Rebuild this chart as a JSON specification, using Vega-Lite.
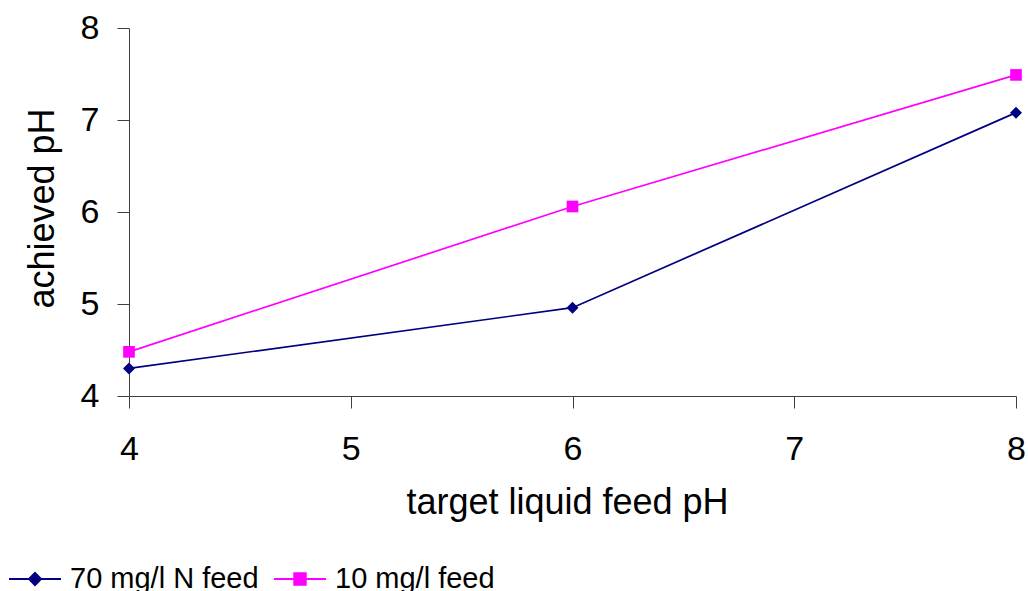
{
  "$schema": "https://vega.github.io/schema/vega-lite/v6.json",
  "width": 887,
  "height": 368,
  "autosize": "none",
  "padding": {"left": 129, "top": 28, "right": 12, "bottom": 195},
  "background": "white",
  "config": {
    "font": "Liberation Sans",
    "view": {"stroke": null},
    "axis": {
      "domainColor": "#404040",
      "tickColor": "#404040",
      "tickSize": 12,
      "grid": false,
      "labelFontSize": 34,
      "labelColor": "black",
      "titleFontSize": 36,
      "titleFontWeight": "normal",
      "titleColor": "black",
      "labelFont": "Liberation Sans",
      "titleFont": "Liberation Sans",
      "domainWidth": 1,
      "tickWidth": 1
    }
  },
  "data": {
    "values": [
      {"series": "70 mg/l N feed", "target": 4, "achieved": 4.30},
      {"series": "70 mg/l N feed", "target": 6, "achieved": 4.96},
      {"series": "70 mg/l N feed", "target": 8, "achieved": 7.08},
      {"series": "10 mg/l feed", "target": 4, "achieved": 4.48},
      {"series": "10 mg/l feed", "target": 6, "achieved": 6.06},
      {"series": "10 mg/l feed", "target": 8, "achieved": 7.49}
    ]
  },
  "encoding": {
    "x": {
      "field": "target",
      "type": "quantitative",
      "scale": {"domain": [4, 8], "nice": false, "zero": false},
      "axis": {
        "values": [4, 5, 6, 7, 8],
        "format": "d",
        "labelFlush": false,
        "title": "target liquid feed pH",
        "labelPadding": 24,
        "titleX": 438,
        "titleY": 117,
        "titleBaseline": "alphabetic"
      }
    },
    "y": {
      "field": "achieved",
      "type": "quantitative",
      "scale": {"domain": [4, 8], "nice": false, "zero": false},
      "axis": {
        "values": [4, 5, 6, 7, 8],
        "format": "d",
        "labelFlush": false,
        "title": "achieved pH",
        "labelPadding": 18,
        "titleX": -76,
        "titleY": 180,
        "titleAngle": -90,
        "titleAlign": "center",
        "titleBaseline": "alphabetic"
      }
    },
    "color": {
      "field": "series",
      "type": "nominal",
      "scale": {"domain": ["70 mg/l N feed", "10 mg/l feed"], "range": ["#000080", "#FF00FF"]},
      "legend": {
        "orient": "none",
        "legendX": -121,
        "legendY": 524,
        "direction": "horizontal",
        "title": null,
        "labelFontSize": 29,
        "labelFont": "Liberation Sans",
        "labelColor": "black",
        "labelLimit": 500,
        "labelOffset": 8,
        "symbolSize": 2704,
        "symbolStrokeWidth": 2,
        "symbolOpacity": 1,
        "columnPadding": 11,
        "padding": 0
      }
    }
  },
  "layer": [
    {
      "transform": [{"filter": "datum.target > 100"}],
      "mark": {"type": "point", "filled": true, "opacity": 1, "fillOpacity": 1, "strokeOpacity": 1},
      "encoding": {
        "shape": {
          "field": "series",
          "type": "nominal",
          "scale": {
            "domain": ["70 mg/l N feed", "10 mg/l feed"],
            "range": ["M-1,0H1M-0.23,0L0,-0.23L0.23,0L0,0.23Z", "M-1,0H1M-0.22,-0.22H0.22V0.22H-0.22Z"]
          }
        },
        "stroke": {
          "field": "series",
          "type": "nominal",
          "scale": {"domain": ["70 mg/l N feed", "10 mg/l feed"], "range": ["#000080", "#FF00FF"]}
        }
      }
    },
    {"mark": {"type": "line", "strokeWidth": 1.7}},
    {
      "transform": [{"filter": "datum.series === '70 mg/l N feed'"}],
      "mark": {"type": "point", "filled": true, "opacity": 1, "size": 144, "shape": "diamond"}
    },
    {
      "transform": [{"filter": "datum.series === '10 mg/l feed'"}],
      "mark": {"type": "point", "filled": true, "opacity": 1, "size": 136, "shape": "square"}
    }
  ]
}
